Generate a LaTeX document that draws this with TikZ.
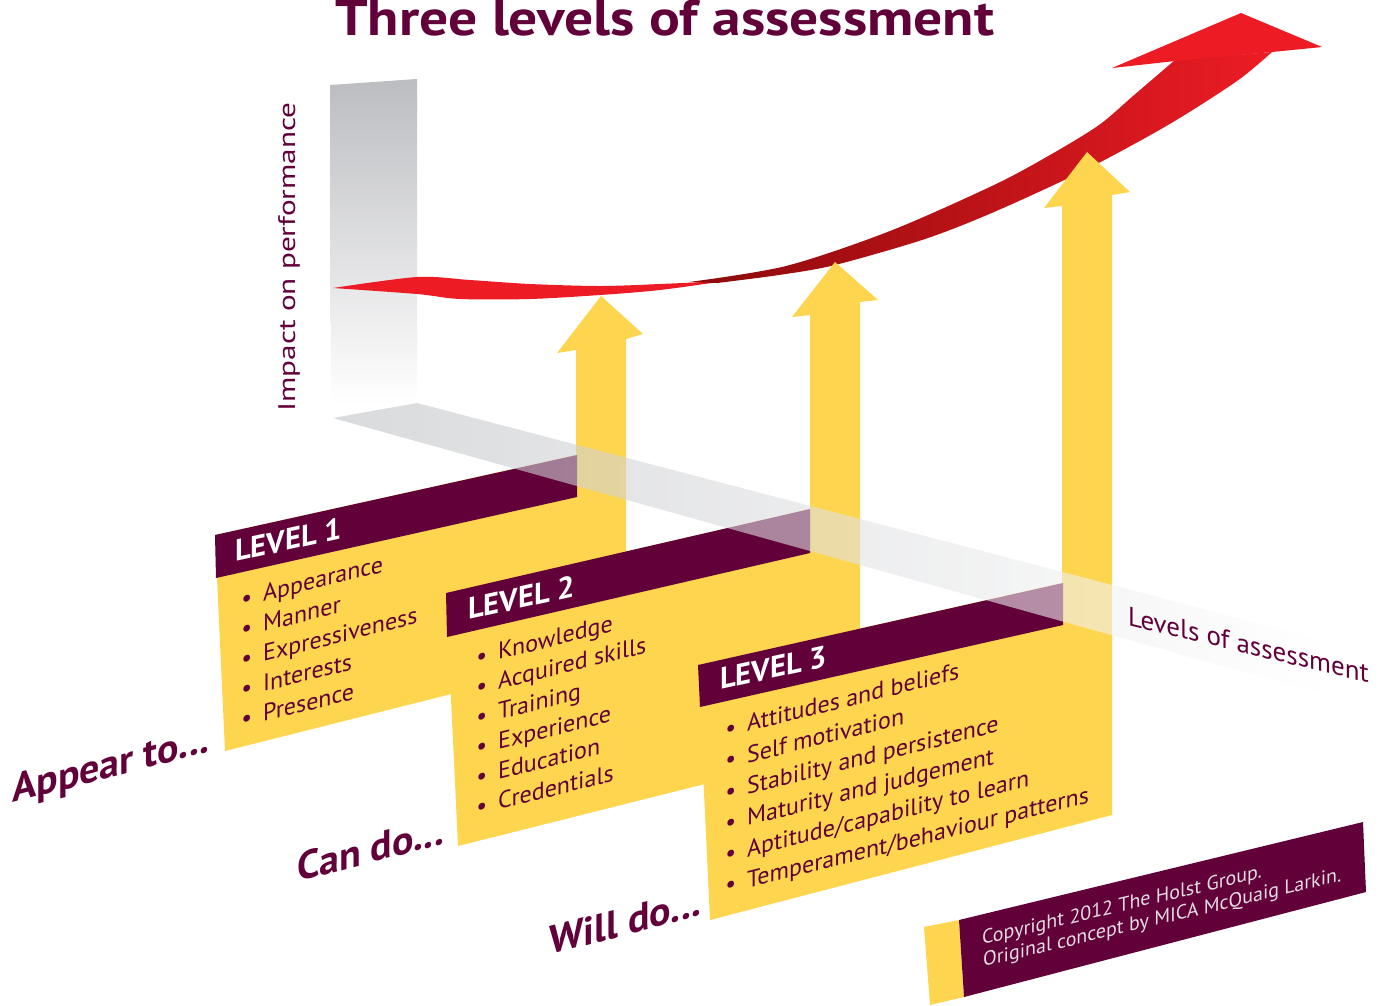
\documentclass[tikz,border=0pt]{standalone}
\usepackage{fontspec}
\setmainfont{PT Sans}
\definecolor{plum}{HTML}{62003A}
\definecolor{gold}{HTML}{FDD54F}
\definecolor{rred}{HTML}{ED1C24}
\definecolor{rdark}{HTML}{8C0A0C}
\definecolor{barg}{HTML}{BCBDC1}
\definecolor{bandg}{HTML}{C0C2C6}
\definecolor{copytext}{HTML}{E2DCE0}
\tikzset{
  listtext/.style={anchor=base west,inner sep=0pt,yslant=0.25,text=plum,font=\fontsize{24}{24}\selectfont},
  headtext/.style={anchor=base west,inner sep=0pt,yslant=0.22,text=white,font=\bfseries\fontsize{30.5}{30}\selectfont},
  cuetext/.style={anchor=base west,inner sep=0pt,yslant=0.26,text=plum,font=\bfseries\fontsize{40}{40}\selectfont},
  copyline/.style={anchor=base west,inner sep=0pt,yslant=0.24,text=copytext,font=\fontsize{20}{20}\selectfont},
}
\newcommand{\bul}{\llap{\textbullet\hspace{11pt}}}
\begin{document}
\begin{tikzpicture}[x=1pt,y=-1pt,line join=round]
\useasboundingbox (0,0) rectangle (1388,1005);
% title
\node[anchor=base west,inner sep=0pt,text=plum,font=\bfseries\fontsize{50}{50}\selectfont] (title) at (335,35) {\scalebox{1.15}[1]{Three levels of assessment}};
% vertical axis
\shade[top color=barg,middle color=barg!80,bottom color=white] (330,85) -- (417,79) -- (417,405) -- (331,405) -- cycle;
\node[rotate=90,inner sep=0pt,text=plum,font=\fontsize{24}{24}\selectfont] (yaxis) at (289,257) {\scalebox{1.3}[1]{Impact on performance}};
% red curve
\fill[rred] plot[smooth] coordinates {(333,288) (417,277) (470,280) (530,284) (600,286) (660,284) (725,281)}
  -- plot[smooth] coordinates {(725,281) (660,290) (600,295) (530,299) (460,299) (417,294) (333,288)} -- cycle;
\shade[left color=rdark,middle color=rdark!55!rred,right color=rred]
  plot[smooth] coordinates {(689,282) (786,266) (890,231) (994,185) (1050,155) (1099,125) (1133,96) (1175,60)}
  -- plot[smooth] coordinates {(1272,52) (1237,81) (1168,125) (1085,170) (994,212) (925,239) (835,265) (779,275) (717,283)} -- cycle;
\fill[rred] (1175,61) -- (1112,68) -- (1241,13) -- (1322,47) -- (1272,52) -- cycle;
% columns
\fill[gold] (215,535) -- (576,455) -- (576,350) -- (557,353) -- (601,296) -- (643,334) -- (626,339) -- (626,650) -- (225,751) -- cycle;
\fill[plum] (215,535) -- (577,455) -- (577,497) -- (216,578) -- cycle;
\fill[gold] (446,593) -- (810,509) -- (810,315) -- (792,317) -- (835,262) -- (878,300) -- (860,302) -- (860,745) -- (458,846) -- cycle;
\fill[plum] (446,593) -- (810,509) -- (810,553) -- (447,637) -- cycle;
\fill[gold] (698,665) -- (1062,583) -- (1062,206) -- (1044,208) -- (1087,152) -- (1130,192) -- (1112,195) -- (1112,815) -- (710,920) -- cycle;
\fill[plum] (698,665) -- (1063,583) -- (1063,625) -- (700,707) -- cycle;
% horizontal axis
\shade[left color=bandg,middle color=bandg!70,right color=white,fill opacity=0.6] (333,418) -- (417,403) -- (1330,642) -- (1330,696) -- cycle;
\node[anchor=base west,inner sep=0pt,yslant=-0.24,text=plum,font=\fontsize{27}{27}\selectfont] (xaxis) at (1128,625) {Levels of assessment};
% level texts
\node[headtext] (head1) at (235,562) {LEVEL 1};
\node[headtext] (head2) at (468,620) {LEVEL 2};
\node[headtext] (head3) at (720,690) {LEVEL 3};
\foreach \t [count=\i from 0] in {Appearance,Manner,Expressiveness,Interests,Presence}
  \node[listtext] (one\i) at (263,{602+30*\i}) {\bul\t};
\foreach \t [count=\i from 0] in {Knowledge,Acquired skills,Training,Experience,Education,Credentials}
  \node[listtext] (two\i) at (498,{660+30*\i}) {\bul\t};
\foreach \t [count=\i from 0] in {Attitudes and beliefs,Self motivation,Stability and persistence,Maturity and judgement,Aptitude/capability to learn,Temperament/behaviour patterns}
  \node[listtext] (three\i) at (747,{732+31.3*\i}) {\bul\t};
\node[cuetext] (appear) at (12,803) {Appear to...};
\node[cuetext] (cando) at (297,882) {Can do...};
\node[cuetext] (willdo) at (549,955) {Will do...};
% copyright
\fill[gold] (924,927) -- (959,920) -- (964,997) -- (930,1005) -- cycle;
\fill[plum] (959,920) -- (1363,822) -- (1366,892) -- (964,997) -- cycle;
\node[copyline] (copy1) at (982,945) {Copyright 2012 The Holst Group.};
\node[copyline] (copy2) at (983,967) {Original concept by MICA McQuaig Larkin.};
\end{tikzpicture}
\end{document}
